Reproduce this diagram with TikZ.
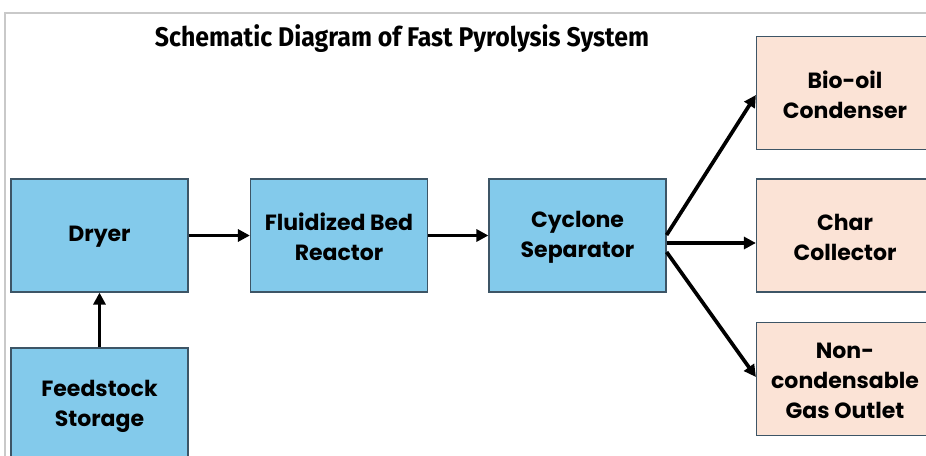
\documentclass[tikz,border=0pt]{standalone}
\usepackage{fontspec}
\setmainfont{Poppins}
\newfontfamily\titlefont[FakeStretch=0.92]{Fira Sans}
\usetikzlibrary{arrows.meta}
\definecolor{boxblue}{HTML}{83CAEB}
\definecolor{boxpeach}{HTML}{FBE3D6}
\definecolor{boxedge}{HTML}{3D5566}
\definecolor{framegray}{HTML}{C9C9C9}
\tikzset{
  caption/.style={align=center, font=\fontsize{22}{30}\selectfont\bfseries, inner sep=0pt, yshift=-1.5pt},
  unit/.style={draw=boxedge, line width=1.2pt, minimum width=177pt, minimum height=113pt,
    inner sep=0pt, label={[caption]center:#1}},
  process/.style={unit=#1, fill=boxblue},
  product/.style={unit=#1, fill=boxpeach},
  flow/.style={line width=3.7pt, -{Triangle[length=12pt,width=12pt]}},
}
\begin{document}
\begin{tikzpicture}[x=1pt,y=-1pt]
\useasboundingbox (0,0) rectangle (926,455);
\clip (0,0) rectangle (926,455);
\fill[white] (0,0) rectangle (926,455);
% outer frame
\draw[framegray, line width=2pt] (5,460) -- (5,13) -- (930,13);
% title
\node[font=\titlefont\fontsize{27}{30}\selectfont\bfseries] (title) at (402,39) {Schematic Diagram of Fast Pyrolysis System};
% process units
\node[process={Dryer}] (dry) at (99.5,235.5) {};
\node[process={Feedstock\\Storage}] (feed) at (99.5,404.5) {};
\node[process={Fluidized Bed\\Reactor}] (fbr) at (339,235.5) {};
\node[process={Cyclone\\Separator}] (cyc) at (577.5,235.5) {};
% products
\node[product={Bio-oil\\Condenser}] (oil) at (845,93) {};
\node[product={Char\\Collector}] (char) at (845,235.5) {};
\node[product={Non-\\condensable\\Gas Outlet}] (gas) at (845,379) {};
% connectors
\draw[flow] (feed.north) -- (dry.south);
\draw[flow] (dry.east) -- (fbr.west);
\draw[flow] (fbr.east) -- (cyc.west);
\draw[flow] ([yshift=0.5pt]cyc.east) -- ([yshift=-2pt]oil.west);
\draw[flow] ([yshift=-7.5pt]cyc.east) -- ([yshift=-7.5pt]char.west);
\draw[flow] ([yshift=-16.5pt]cyc.east) -- ([yshift=2pt]gas.west);
\end{tikzpicture}
\end{document}
